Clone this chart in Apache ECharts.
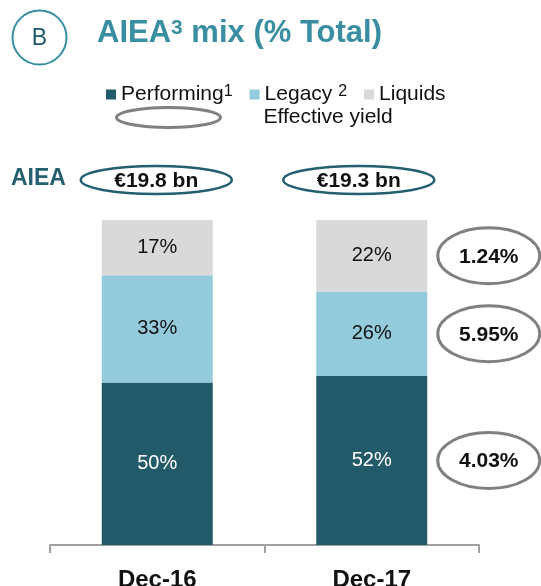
<!DOCTYPE html>
<html>
<head>
<meta charset="utf-8">
<title>AIEA mix</title>
<script src="https://cdn.jsdelivr.net/npm/echarts@6/dist/echarts.min.js"></script>
<style>
	html, body { margin: 0; padding: 0; background: #fff; }
	#chart { width: 541px; height: 586px; }
</style>
</head>
<body>
<div id="chart"></div>
<script>
// 数据
var categories = ['Dec-16', 'Dec-17'];
var performing = [50, 52];
var legacy = [33, 26];
var liquids = [17, 22];
var aieaTotal = [19.8, 19.3];// € bn
var yieldDec17 = [4.03, 5.95, 1.24];// performing, legacy, liquids

var FONT = "'Liberation Sans', Arial, sans-serif";
var C_PERF = '#225a69';
var C_LEG = '#93cbdd';
var C_LIQ = '#d9d9d9';
var C_TEAL = '#3a8ea2';

/**
 * Effective yield: one point per Dec-17 segment, at the middle of the segment
 */
var last = categories.length - 1;
var segs = [performing[last], legacy[last], liquids[last]];
var yieldData = [];
var base = 0;
for (var i = 0; i < segs.length; i++) {
	yieldData.push([categories[last], base + segs[i] / 2, yieldDec17[i]]);
	base += segs[i];
}

var aieaData = [];
for (var k = 0; k < categories.length; k++) {
	aieaData.push([categories[k], 100, aieaTotal[k]]);
}

function barSeries(name, data, color, labelColor) {
	return {
		name: name,
		type: 'bar',
		stack: 'total',
		barWidth: 111,
		data: data,
		itemStyle: { color: color },
		label: {
			show: true,
			position: 'inside',
			formatter: '{c}%',
			fontFamily: FONT,
			fontSize: 20,
			color: labelColor
		},
		emphasis: { disabled: true }
	};
}

var chart = echarts.init(document.getElementById('chart'), null, { renderer: 'canvas' });
var option = {
	animation: false,
	backgroundColor: '#fff',
	grid: { left: 50, right: 62, top: 220, bottom: 41, outerBoundsMode: 'none' },
	legend: [
		{
			data: ['Performing', 'Legacy', 'Liquids'],
			left: 101,
			top: 79,
			itemWidth: 10,
			itemHeight: 10,
			itemGap: 17,
			selectedMode: false,
			icon: 'rect',
			formatter: function (name) {
				if (name === 'Performing') return 'Performing{s|1}';
				if (name === 'Legacy') return 'Legacy {s|2}';
				return name;
			},
			textStyle: {
				fontFamily: FONT,
				fontSize: 21,
				color: '#111',
				rich: {
					s: { fontFamily: FONT, fontSize: 16, color: '#111', verticalAlign: 'top', lineHeight: 14 }
				}
			}
		},
		{
			data: [{
				name: 'Effective yield',
				icon: 'path://M0,10 A52,10 0 1,1 104,10 A52,10 0 1,1 0,10 Z',
				itemStyle: { color: 'rgba(0,0,0,0)', borderColor: '#808080', borderWidth: 3 }
			}],
			left: 110,
			top: 101,
			itemWidth: 104,
			itemHeight: 20,
			selectedMode: false,
			textStyle: { fontFamily: FONT, fontSize: 21, color: '#111', padding: [0, 0, 0, 38] }
		}
	],
	xAxis: {
		type: 'category',
		data: categories,
		axisLine: { lineStyle: { color: '#a0a0a0', width: 2 } },
		axisTick: { show: true, length: 8, lineStyle: { color: '#a0a0a0', width: 2 } },
		axisLabel: { margin: 23, fontFamily: FONT, fontSize: 24, fontWeight: 'bold', color: '#111' }
	},
	yAxis: { type: 'value', min: 0, max: 100, show: false },
	graphic: [
		{
			type: 'circle',
			shape: { cx: 39.5, cy: 37.5, r: 27 },
			style: { fill: '#fff', stroke: C_TEAL, lineWidth: 2 }
		},
		{
			type: 'text',
			x: 39.5,
			y: 39,
			style: { text: 'B', font: '23px ' + FONT, fill: '#22596a', align: 'center', verticalAlign: 'middle' }
		},
		{
			type: 'text',
			x: 97,
			y: 33,
			style: {
				text: '{t|AIEA}{s|3}{t| mix (% Total)}',
				verticalAlign: 'middle',
				rich: {
					t: { fontFamily: FONT, fontSize: 31, fontWeight: 'bold', fill: C_TEAL, color: C_TEAL },
					s: { fontFamily: FONT, fontSize: 21, fontWeight: 'bold', fill: C_TEAL, color: C_TEAL, verticalAlign: 'top', lineHeight: 19 }
				}
			}
		},
		{
			type: 'text',
			x: 11,
			y: 179,
			style: { text: 'AIEA', font: 'bold 23px ' + FONT, fill: '#24606f', verticalAlign: 'middle' }
		}
	],
	series: [
		barSeries('Performing', performing, C_PERF, '#fff'),
		barSeries('Legacy', legacy, C_LEG, '#111'),
		barSeries('Liquids', liquids, C_LIQ, '#111'),
		{
			// AIEA 总量(椭圆)
			name: 'AIEA',
			type: 'custom',
			clip: false,
			data: aieaData,
			renderItem: function (params, api) {
				var shift = [-1, -13];
				var pt = api.coord([api.value(0), api.value(1)]);
				var cx = pt[0] + shift[params.dataIndex];
				var cy = pt[1] - 40;
				return {
					type: 'group',
					children: [
						{
							type: 'ellipse',
							shape: { cx: cx, cy: cy, rx: 75.5, ry: 14 },
							style: { fill: '#fff', stroke: '#245f6f', lineWidth: 2.5 }
						},
						{
							type: 'text',
							x: cx,
							y: cy + 1,
							style: {
								text: '€' + api.value(2).toFixed(1) + ' bn',
								font: 'bold 21px ' + FONT,
								fill: '#111',
								align: 'center',
								verticalAlign: 'middle'
							}
						}
					]
				};
			}
		},
		{
			// Effective yield(椭圆)
			name: 'Effective yield',
			type: 'custom',
			clip: false,
			data: yieldData,
			renderItem: function (params, api) {
				var pt = api.coord([api.value(0), api.value(1)]);
				var cx = pt[0] + 117;
				var cy = pt[1];
				return {
					type: 'group',
					children: [
						{
							type: 'ellipse',
							shape: { cx: cx, cy: cy, rx: 51, ry: 28 },
							style: { fill: '#fff', stroke: '#808080', lineWidth: 3 }
						},
						{
							type: 'text',
							x: cx,
							y: cy + 1,
							style: {
								text: api.value(2).toFixed(2) + '%',
								font: 'bold 21px ' + FONT,
								fill: '#111',
								align: 'center',
								verticalAlign: 'middle'
							}
						}
					]
				};
			}
		}
	]
};
chart.setOption(option);
</script>
</body>
</html>
